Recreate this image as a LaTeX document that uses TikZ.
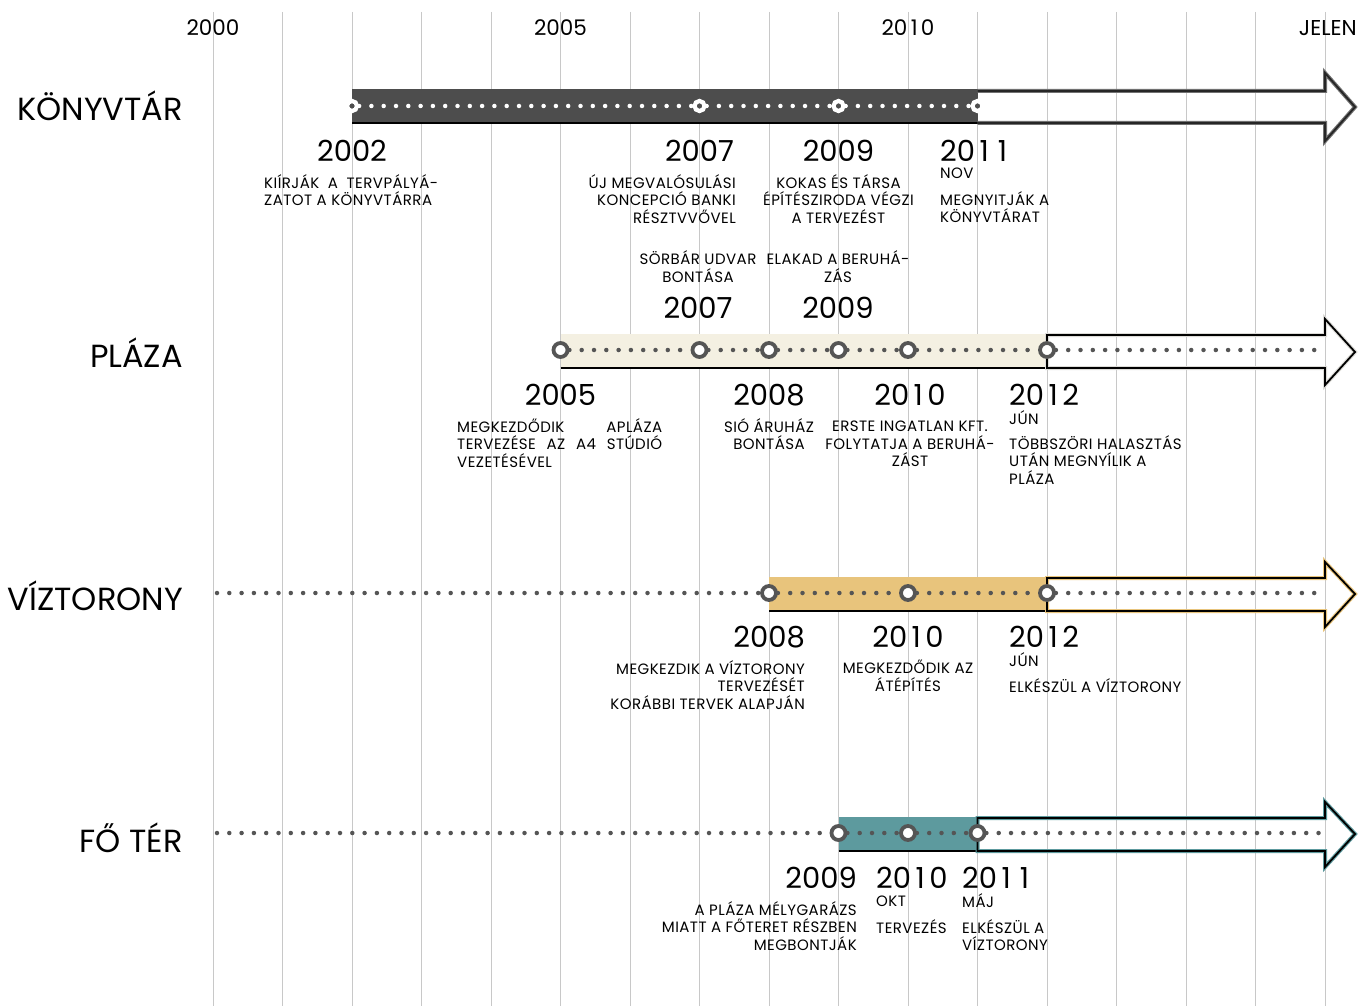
\documentclass[tikz,border=0pt]{standalone}
\usepackage{fontspec}
\setmainfont{Poppins}
\definecolor{darkbar}{RGB}{77,77,77}
\definecolor{cream}{RGB}{244,240,226}
\definecolor{gold}{RGB}{232,196,124}
\definecolor{teal}{RGB}{93,154,158}
\definecolor{dotgrey}{RGB}{85,85,85}
\definecolor{gridgrey}{RGB}{200,200,200}
\newlength\zerow
\newcommand\one{\settowidth\zerow{0}\makebox[\zerow]{1}}
\begin{document}
\begin{tikzpicture}[x=1pt,y=-1pt,
  gridline/.style={gridgrey,line width=1pt},
  dots/.style={dotgrey,line width=4.5pt,line cap=round,dash pattern=on 0pt off 12.3pt},
  wdots/.style={dots,white},
  barline/.style={black,line width=2.5pt},
  kmark/.style={circle,minimum size=10pt,inner sep=0pt,fill=darkbar,draw=white,line width=4.2pt},
  pmark/.style={circle,minimum size=14pt,inner sep=0pt,fill=white,draw=dotgrey,line width=3.8pt},
  rowlab/.style={anchor=east,inner sep=0pt,font=\fontsize{32}{32}\selectfont},
  yr/.style={inner sep=0pt,text height=21pt,text depth=0pt,font=\fontsize{29}{29}\selectfont},
  axislab/.style={inner sep=0pt,font=\fontsize{21.5}{21.5}\selectfont},
  small/.style={inner sep=0pt,font=\fontsize{15}{17.6}\selectfont\addfontfeatures{LetterSpace=3}},
]
\useasboundingbox (0,0) rectangle (1358,1006);
\fill[white] (0,0) rectangle (1358,1006);
% grid
\foreach \i in {0,...,16} \draw[gridline] (213+69.5*\i,12) -- (213+69.5*\i,1006);
% axis labels
\node[axislab] (a2000) at (213,28) {2000};
\node[axislab] (a2005) at (560.5,28) {2005};
\node[axislab] (a2010) at (908,28) {20\one0};
\node[axislab,anchor=east] (ajelen) at (1357,28) {JELEN};
% row labels
\node[rowlab] (rk) at (183,106) {KÖNYVTÁR};
\node[rowlab] (rp) at (183,353) {PLÁZA};
\node[rowlab] (rv) at (183,596) {VÍZTORONY};
\node[rowlab] (rf) at (183,838) {FŐ TÉR};

% ---------- KÖNYVTÁR ----------
\fill[darkbar] (352,89) rectangle (977.5,123);
\draw[barline] (352,123) -- (977.5,123);
\draw[darkbar!80,line width=4pt,line join=miter] (977.5,91) -- (1325,91) -- (1325,73) -- (1355,107) -- (1325,141) -- (1325,123) -- (977.5,123);
\draw[black!85,line width=1.8pt,line join=miter] (977.5,91) -- (1325,91) -- (1325,73) -- (1355,107) -- (1325,141) -- (1325,123) -- (977.5,123);
\node[kmark] (k1) at (352,106) {};
\node[kmark] (k2) at (699.5,106) {};
\node[kmark] (k3) at (838.5,106) {};
\node[kmark] (k4) at (977.5,106) {};
\draw[wdots] (k1) -- (k2);
\draw[wdots] (k2) -- (k3);
\draw[wdots] (k3) -- (k4);

\node[yr] (ky1) at (352,151) {2002};
\node[small,anchor=north west,align=left] (kt1) at (264,174) {\makebox[174pt][s]{KIÍRJÁK A TERVPÁLYÁ-}\\ZATOT A KÖNYVTÁRRA};
\node[yr] (ky2) at (699.5,151) {2007};
\node[small,anchor=north east,align=right] (kt2) at (736,174) {ÚJ MEGVALÓSULÁSI\\KONCEPCIÓ BANKI\\RÉSZTVVŐVEL};
\node[yr] (ky3) at (838.5,151) {2009};
\node[small,anchor=north,align=center] (kt3) at (838.5,174) {KOKAS ÉS TÁRSA\\ÉPÍTÉSZIRODA VÉGZI\\A TERVEZÉST};
\node[yr,anchor=west] (ky4) at (940,151) {20\one\one};
\node[small,anchor=north west,align=left] (km4) at (940,168) {NOV};
\node[small,anchor=north west,align=left] (kt4) at (940,191) {MEGNYITJÁK A\\KÖNYVTÁRAT};

% ---------- PLÁZA ----------
\fill[cream] (560.5,334) rectangle (1047,368);
\draw[barline] (560.5,368) -- (1047,368);
\draw[cream!70!black!40,line width=4pt,line join=miter] (1047,335) -- (1325,335) -- (1325,319) -- (1355,352) -- (1325,385) -- (1325,368) -- (1047,368) -- cycle;
\draw[black,line width=1.8pt,line join=miter] (1047,335) -- (1325,335) -- (1325,319) -- (1355,352) -- (1325,385) -- (1325,368) -- (1047,368) -- cycle;
\node[pmark] (p1) at (560.5,350) {};
\node[pmark] (p2) at (699.5,350) {};
\node[pmark] (p3) at (769,350) {};
\node[pmark] (p4) at (838.5,350) {};
\node[pmark] (p5) at (908,350) {};
\node[pmark] (p6) at (1047,350) {};
\coordinate (pend) at (1322,350);
\draw[dots] (p1) -- (p2);
\draw[dots] (p2) -- (p3);
\draw[dots] (p3) -- (p4);
\draw[dots] (p4) -- (p5);
\draw[dots] (p5) -- (p6);
\draw[dots] (p6) -- (pend);

\node[small,anchor=south,align=center] (pa2) at (698,282.5) {SÖRBÁR UDVAR\\BONTÁSA};
\node[yr] (pay2) at (698,308) {2007};
\node[small,anchor=south,align=center] (pa4) at (838,282.5) {ELAKAD A BERUHÁ-\\ZÁS};
\node[yr] (pay4) at (838,308) {2009};

\node[yr] (py1) at (560.5,395) {2005};
\node[small,anchor=north west,align=left] (pt1) at (457,418) {\makebox[205pt][s]{MEGKEZDŐDIK\hfill APLÁZA}\\\makebox[205pt][s]{TERVEZÉSE\hfill AZ\hfill A4\hfill STÚDIÓ}\\VEZETÉSÉVEL};
\node[yr] (py3) at (769,395) {2008};
\node[small,anchor=north,align=center] (pt3) at (769,418) {SIÓ ÁRUHÁZ\\BONTÁSA};
\node[yr] (py5) at (910,395) {20\one0};
\node[small,anchor=north,align=center] (pt5) at (910,421) {ERSTE INGATLAN KFT.\\FOLYTATJA A BERUHÁ-\\ZÁST};
\node[yr,anchor=west] (py6) at (1009,395) {20\one2};
\node[small,anchor=north west] (pm6) at (1009,410) {JÚN};
\node[small,anchor=north west,align=left] (pt6) at (1009,435) {TÖBBSZÖRI HALASZTÁS\\UTÁN MEGNYÍLIK A\\PLÁZA};

% ---------- VÍZTORONY ----------
\fill[gold] (769,577) rectangle (1047,611);
\draw[barline] (769,611) -- (1047,611);
\draw[gold,line width=4pt,line join=miter] (1047,578) -- (1325,578) -- (1325,562) -- (1355,594) -- (1325,627) -- (1325,611) -- (1047,611) -- cycle;
\draw[black,line width=1.8pt,line join=miter] (1047,578) -- (1325,578) -- (1325,562) -- (1355,594) -- (1325,627) -- (1325,611) -- (1047,611) -- cycle;
\coordinate (vstart) at (217,593);
\node[pmark] (v1) at (769,593) {};
\node[pmark] (v2) at (908,593) {};
\node[pmark] (v3) at (1047,593) {};
\coordinate (vend) at (1322,593);
\draw[dots] (vstart) -- (v1);
\draw[dots] (v1) -- (v2);
\draw[dots] (v2) -- (v3);
\draw[dots] (v3) -- (vend);

\node[yr,anchor=east] (vy1) at (805,637) {2008};
\node[small,anchor=north east,align=right] (vt1) at (805,660) {MEGKEZDIK A VÍZTORONY\\TERVEZÉSÉT\\KORÁBBI TERVEK ALAPJÁN};
\node[yr] (vy2) at (908,637) {20\one0};
\node[small,anchor=north,align=center] (vt2) at (908,660) {MEGKEZDŐDIK AZ\\ÁTÉPÍTÉS};
\node[yr,anchor=west] (vy3) at (1009,637) {20\one2};
\node[small,anchor=north west] (vm3) at (1009,652) {JÚN};
\node[small,anchor=north west] (vt3) at (1009,678) {ELKÉSZÜL A VÍZTORONY};

% ---------- FŐ TÉR ----------
\fill[teal] (838.5,817) rectangle (977.5,851);
\draw[barline] (838.5,851) -- (977.5,851);
\draw[teal,line width=4pt,line join=miter] (977.5,818) -- (1325,818) -- (1325,802) -- (1355,834) -- (1325,867) -- (1325,851) -- (977.5,851) -- cycle;
\draw[black,line width=1.8pt,line join=miter] (977.5,818) -- (1325,818) -- (1325,802) -- (1355,834) -- (1325,867) -- (1325,851) -- (977.5,851) -- cycle;
\coordinate (fstart) at (217,833);
\node[pmark] (f1) at (838.5,833) {};
\node[pmark] (f2) at (908,833) {};
\node[pmark] (f3) at (977.5,833) {};
\coordinate (fend) at (1322,833);
\draw[dots] (fstart) -- (f1);
\draw[dots] (f1) -- (f2);
\draw[dots] (f2) -- (f3);
\draw[dots] (f3) -- (fend);

\node[yr,anchor=east] (fy1) at (857,878) {2009};
\node[small,anchor=north east,align=right] (ft1) at (857,901) {A PLÁZA MÉLYGARÁZS\\MIATT A FŐTERET RÉSZBEN\\MEGBONTJÁK};
\node[yr,anchor=west] (fy2) at (876,878) {20\one0};
\node[small,anchor=north west] (fm2) at (876,896) {OKT};
\node[small,anchor=north west] (ft2) at (876,919) {TERVEZÉS};
\node[yr,anchor=west] (fy3) at (962,878) {20\one\one};
\node[small,anchor=north west] (fm3) at (962,893) {MÁJ};
\node[small,anchor=north west,align=left] (ft3) at (962,919) {ELKÉSZÜL A\\VÍZTORONY};
\end{tikzpicture}
\end{document}
